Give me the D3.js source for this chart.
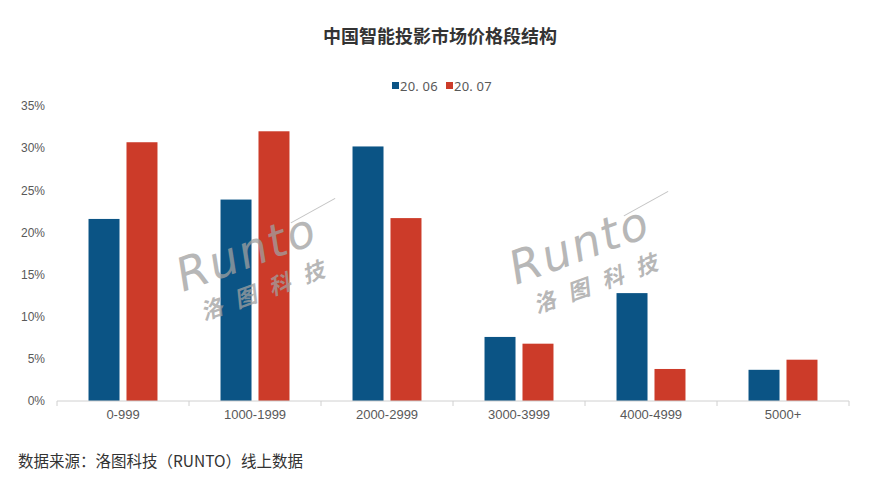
<!DOCTYPE html>
<html><head><meta charset="utf-8">
<script src="https://cdn.jsdelivr.net/npm/d3@7/dist/d3.min.js"></script>
<style>body{margin:0;background:#fff;}svg{display:block;}</style>
</head><body>
<svg id="c" width="889" height="504"></svg>
<script>
const categories = ["0-999","1000-1999","2000-2999","3000-3999","4000-4999","5000+"];
const seriesNames = ["20.06","20.07"];
const s2006 = [21.6, 23.9, 30.2, 7.6, 12.8, 3.7];
const s2007 = [30.7, 32.0, 21.7, 6.8, 3.8, 4.9];
const yTicks = [0,5,10,15,20,25,30,35];
const colors = ["#0b5485","#cc3b29"];

(function(){
const svg = d3.select("#c");
const font = "'Noto Sans CJK SC','Microsoft YaHei',sans-serif";
const pL = 57, pR = 849, pT = 106, pB = 401;

const x = d3.scaleBand().domain(categories).range([pL, pR]).paddingInner(0).paddingOuter(0);
const x1 = d3.scaleBand().domain(seriesNames).range([0, x.bandwidth()]).paddingInner(0.184).paddingOuter(0.83);
const y = d3.scaleLinear().domain([0,35]).range([pB, pT]);

// title
svg.append("text").attr("x",440).attr("y",43).attr("text-anchor","middle")
  .attr("font-family",font).attr("font-weight","bold").attr("font-size",18).attr("fill","#333")
  .text("中国智能投影市场价格段结构");

// legend
const lg = svg.append("g");
const legX = [392, 446];
seriesNames.forEach((n,i)=>{
  lg.append("rect").attr("x",legX[i]).attr("y",82).attr("width",7).attr("height",7).attr("fill",colors[i]);
  lg.append("text").attr("x",legX[i]+8).attr("y",90.5).attr("font-family","'Noto Sans',sans-serif")
    .attr("font-size",13).attr("fill","#595959").attr("letter-spacing","0.2").text(n.replace(".", ". "));
});

// y axis labels
const ya = svg.append("g").attr("transform",`translate(${pL-12},0)`)
  .call(d3.axisLeft(y).tickValues(yTicks).tickSize(0).tickFormat(d=>d+"%"));
ya.select(".domain").remove();
ya.selectAll("text").attr("font-family","'Liberation Sans',Arial,sans-serif").attr("font-size",12).attr("fill","#595959").attr("x",0);

// bars
const data = categories.map((c,i)=>({c, v:[s2006[i], s2007[i]]}));
const g = svg.append("g");
data.forEach(d=>{
  seriesNames.forEach((n,j)=>{
    g.append("rect").attr("x",x(d.c)+x1(n)).attr("width",x1.bandwidth())
      .attr("y",y(d.v[j])).attr("height",y(0)-y(d.v[j])).attr("fill",colors[j]);
  });
});

// x axis
const xa = svg.append("g").attr("transform",`translate(0,${pB})`)
  .call(d3.axisBottom(x).tickSize(0).tickPadding(9));
xa.select(".domain").attr("stroke","#d0d0d0").attr("d",`M${pL},0H${pR}`);
xa.selectAll("text").attr("font-family","'Liberation Sans Narrow','Liberation Sans',Arial,sans-serif").attr("font-size",13).attr("fill","#595959");
const bounds = categories.map(c=>x(c)).concat([pR]);
xa.selectAll(".sep").data(bounds).enter().append("line").attr("class","sep")
  .attr("x1",d=>d).attr("x2",d=>d).attr("y1",0).attr("y2",5).attr("stroke","#d0d0d0");

// watermarks
function watermark(cx, cy){
  const w = svg.append("g").attr("transform",`translate(${cx},${cy}) rotate(-20)`).attr("opacity",0.75);
  w.append("text").attr("x",0).attr("y",0).attr("font-family","'DejaVu Sans',sans-serif").attr("font-style","italic")
    .attr("font-size",46).attr("fill","#a0a0a0").attr("letter-spacing","2").text("Runto");
  w.append("text").attr("x",10).attr("y",34).attr("font-family",font).attr("font-weight","bold").attr("font-style","italic")
    .attr("font-size",22).attr("fill","#a0a0a0").attr("letter-spacing","14").text("洛图科技");
  w.append("line").attr("x1",125).attr("y1",-28).attr("x2",175).attr("y2",-36).attr("stroke","#b0b0b0").attr("stroke-width",1);
}
watermark(183, 292);
watermark(516, 285);

// source
svg.append("text").attr("x",18).attr("y",467).attr("font-family",font).attr("font-size",15.5).attr("fill","#333")
  .text("数据来源：洛图科技（RUNTO）线上数据");
})();
</script>
</body></html>
